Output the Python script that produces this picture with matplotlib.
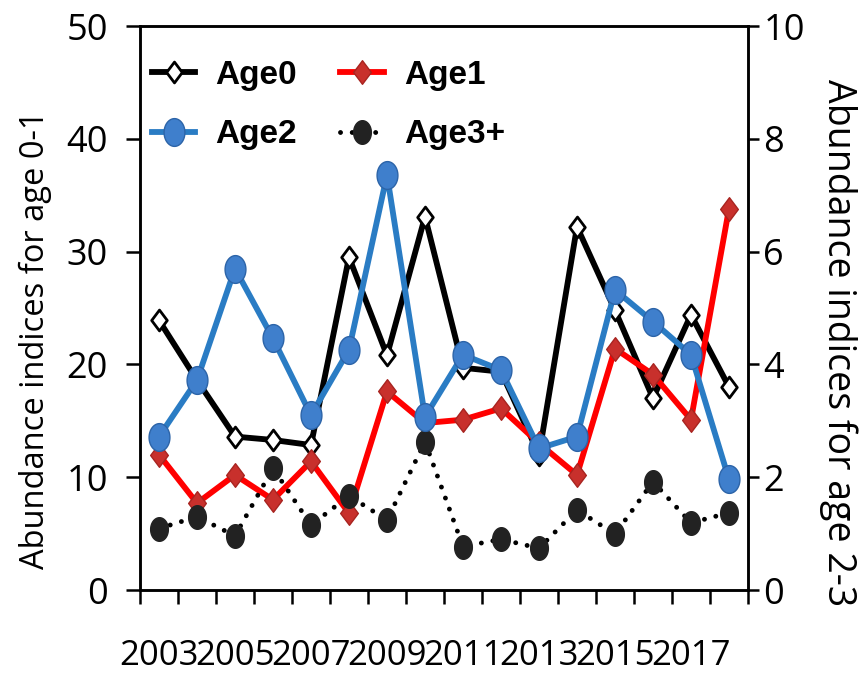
import matplotlib
matplotlib.use("Agg")
import matplotlib.pyplot as plt
import numpy as np
from matplotlib.path import Path

years = list(range(2003, 2019))
tick_years = [2003, 2005, 2007, 2009, 2011, 2013, 2015, 2017]
age0 = [23.9, 18.6, 13.6, 13.3, 12.85, 29.5, 20.8, 33.1, 19.7, 19.35, 12.0, 32.2, 24.8, 17.0, 24.4, 18.0]
age1 = [12.0, 7.7, 10.2, 8.0, 11.4, 6.8, 17.6, 14.8, 15.1, 16.1, 13.0, 10.2, 21.4, 19.1, 15.1, 33.8]
age2 = [2.72, 3.72, 5.70, 4.46, 3.10, 4.26, 7.36, 3.07, 4.17, 3.90, 2.51, 2.72, 5.32, 4.76, 4.17, 1.96]
age3 = [1.09, 1.30, 0.96, 2.16, 1.15, 1.67, 1.24, 2.63, 0.77, 0.90, 0.74, 1.42, 0.99, 1.92, 1.19, 1.37]
left_ticks = [0, 10, 20, 30, 40, 50]
right_ticks = [0, 2, 4, 6, 8, 10]

TXT = ['Liberation Sans Narrow', 'Open Sans', 'DejaVu Sans']

# tall markers (the reference is horizontally squeezed)
t = np.linspace(0, 2 * np.pi, 60)
ellipse = Path(np.column_stack([0.75 * np.cos(t), np.sin(t)]), closed=True)
diamond = Path([(0, 1), (0.75, 0), (0, -1), (-0.75, 0), (0, 1)], closed=True)

fig = plt.figure(figsize=(8.59, 6.79), dpi=100)
ax = fig.add_axes([140 / 859, 1 - 590 / 679, 608 / 859, 564 / 679])
ax2 = ax.twinx()

x = np.arange(len(years))

l0, = ax.plot(x, age0, color='black', lw=4.2, marker=diamond, ms=15,
              mfc='white', mec='black', mew=2, zorder=3, label='Age0')
l1, = ax.plot(x, age1, color='#ff0000', lw=4.2, marker=diamond, ms=17,
              mfc='#c8302c', mec='#a82420', mew=1, zorder=4, label='Age1')
l3, = ax2.plot(x, age3, color='black', lw=3.5, ls=(0, (0.01, 2.4)),
               dash_capstyle='round', marker=ellipse, ms=17,
               mfc='#222222', mec='#222222', zorder=3, label='Age3+')
l2, = ax2.plot(x, age2, color='#2a7cc4', lw=4.2, marker=ellipse, ms=20,
               mfc='#3f7fcc', mec='#2c64a8', mew=1, zorder=4, label='Age2')

ax.set_xlim(-0.5, len(years) - 0.5)
ax.set_ylim(0, 50)
ax2.set_ylim(0, 10)
ax.set_yticks(left_ticks)
ax2.set_yticks(right_ticks)

pos = [years.index(y) for y in tick_years]
ax.set_xticks(pos)
ax.set_xticklabels([str(y) for y in tick_years], family=TXT, fontsize=25)
ax.set_xticks(np.arange(-0.5, len(years)), minor=True)
ax.tick_params(axis='x', which='major', length=0, pad=35)
ax.tick_params(axis='x', which='minor', length=10, width=1.8, direction='out')

ax.set_yticklabels([str(v) for v in left_ticks], family=TXT, fontsize=26)
ax.tick_params(axis='y', length=10, width=1.8, direction='out', pad=13)
ax2.set_yticklabels([str(v) for v in right_ticks], family=TXT, fontsize=26)
ax2.tick_params(axis='y', length=8, width=1.8, direction='out', pad=3)

for a in (ax, ax2):
    for s in a.spines.values():
        s.set_linewidth(1.8)

fig.text(35 / 859, 1 - 340 / 679, 'Abundance indices for age 0-1', rotation=90,
         ha='center', va='center', family=TXT, fontsize=23.5)
fig.text(838 / 859, 1 - 343 / 679, 'Abundance indices for age 2-3', rotation=270,
         ha='center', va='center', family=TXT, fontsize=27)

leg = ax2.legend(handles=[l0, l2, l1, l3], ncol=2, loc='upper left',
                 bbox_to_anchor=(0.02, 0.94), frameon=False,
                 prop={'family': ['Liberation Sans', 'DejaVu Sans'], 'weight': 'bold', 'size': 24},
                 numpoints=1, handlelength=1.3, handletextpad=0.6,
                 columnspacing=1.3, labelspacing=0.85, borderpad=0, borderaxespad=0)

fig.savefig('out.png', dpi=100)
